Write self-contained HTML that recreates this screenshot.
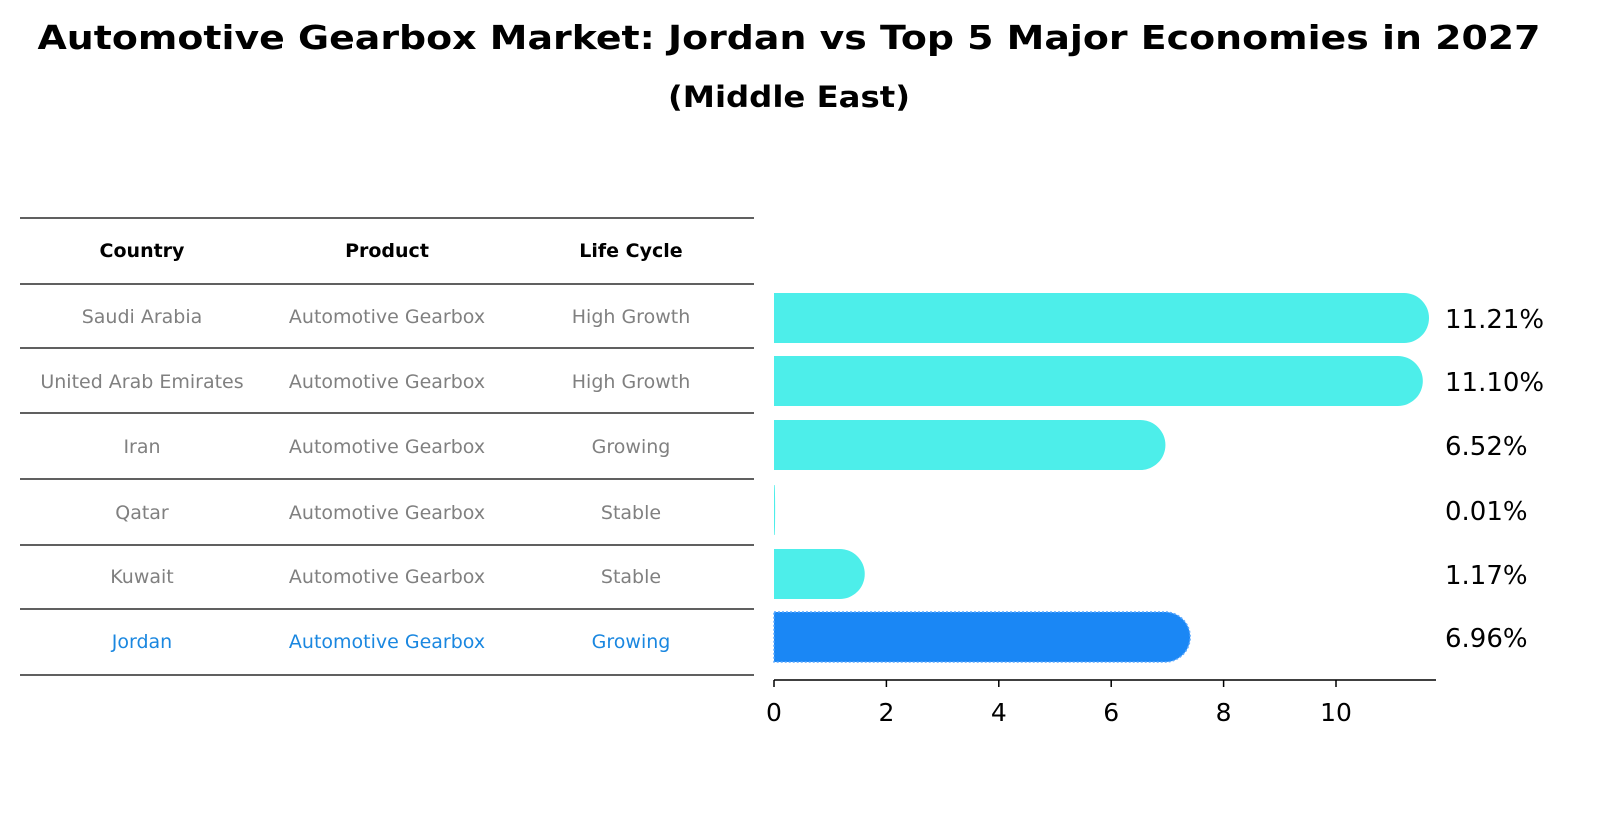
<!DOCTYPE html>
<html><head><meta charset="utf-8"><style>
body{margin:0;background:#fff;font-family:"Liberation Sans","DejaVu Sans",sans-serif;}
svg text{font-family:"DejaVu Sans","Liberation Sans",sans-serif;}
</style></head><body>
<svg id="c" width="1604" height="823" xmlns="http://www.w3.org/2000/svg">
<text x="789" y="49" text-anchor="middle" font-size="33" font-weight="bold" textLength="1503" lengthAdjust="spacingAndGlyphs">Automotive Gearbox Market: Jordan vs Top 5 Major Economies in 2027</text>
<text x="789" y="107" text-anchor="middle" font-size="29" font-weight="bold" textLength="242" lengthAdjust="spacingAndGlyphs">(Middle East)</text>
<g id="tbl"></g>
<g id="bars"></g>
</svg>
<script>
const countries=["Saudi Arabia","United Arab Emirates","Iran","Qatar","Kuwait","Jordan"];
const products=["Automotive Gearbox","Automotive Gearbox","Automotive Gearbox","Automotive Gearbox","Automotive Gearbox","Automotive Gearbox"];
const lifeCycles=["High Growth","High Growth","Growing","Stable","Stable","Growing"];
const values=[11.21,11.10,6.52,0.01,1.17,6.96];
const ticks=[0,2,4,6,8,10];
const NS="http://www.w3.org/2000/svg";
function mk(t,a,p){const e=document.createElementNS(NS,t);for(const k in a)e.setAttribute(k,a[k]);p.appendChild(e);return e;}
const tbl=document.getElementById('tbl'),bars=document.getElementById('bars');
const lineYs=[218,284,348,413,479,545,609,675];
lineYs.forEach(y=>{const l=mk('line',{x1:20,x2:754,y1:y,y2:y,stroke:'#000','stroke-width':1.2},tbl);

});
const colX=[142,387,631];
["Country","Product","Life Cycle"].forEach((h,i)=>{const t=mk('text',{x:colX[i],y:257,'text-anchor':'middle','font-size':19,'font-weight':'bold'},tbl);t.textContent=h;

});
const rowY=[316,381,446,512,576,641];
countries.forEach((c,i)=>{const col=i===countries.length-1?'#1a87e0':'#808080';
[c,products[i],lifeCycles[i]].forEach((v,j)=>{const t=mk('text',{x:colX[j],y:rowY[i]+7,'text-anchor':'middle','font-size':19,fill:col},tbl);t.textContent=v;

});});
const x0=774,pxPer=56.2;const X=v=>x0+v*pxPer;
const barC=[318,381,445,510,574,637],bh=50;
const ax=mk('line',{x1:x0,x2:1436,y1:680,y2:680,stroke:'#000','stroke-width':1.5},bars);


ticks.forEach(v=>{const l=mk('line',{x1:X(v),x2:X(v),y1:680,y2:687,stroke:'#000','stroke-width':1.5},bars);


const t=mk('text',{x:X(v),y:721,'text-anchor':'middle','font-size':25},bars);t.textContent=v;

});
values.forEach((v,i)=>{const w=X(v)-x0;const r=Math.min(bh/2,w);const cy=barC[i];const top=cy-bh/2;
const isJ=i===values.length-1;
const d=`M${x0},${top} H${x0+w} A${r},${bh/2} 0 0 1 ${x0+w},${top+bh} H${x0} Z`;
const p=mk('path',{d:d,fill:isJ?'#1a87f5':'#4deeea'},bars);
if(isJ){p.setAttribute('stroke','#5aa8ff');p.setAttribute('stroke-dasharray','2,2');p.setAttribute('stroke-width','1.5');}


const t=mk('text',{x:1445,y:cy+10,'font-size':26},bars);t.textContent=v.toFixed(2)+'%';

});
</script>
</body></html>
